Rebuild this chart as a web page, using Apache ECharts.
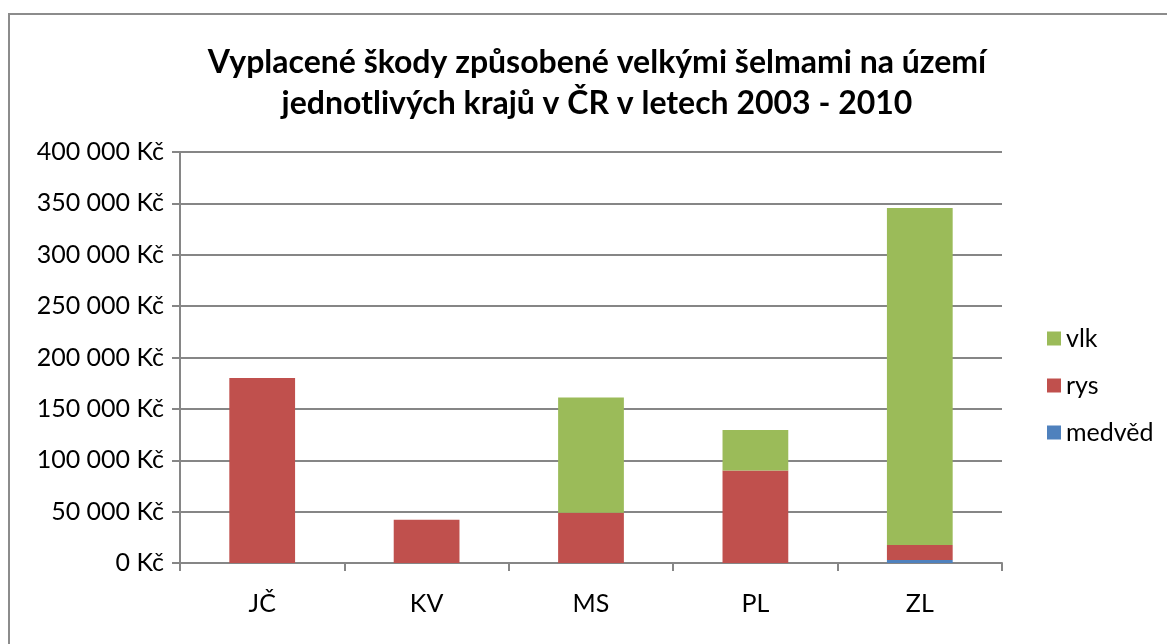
<!DOCTYPE html>
<html>
<head>
<meta charset="utf-8">
<script src="https://cdn.jsdelivr.net/npm/echarts@6/dist/echarts.min.js"></script>
<style>
  html, body { margin: 0; padding: 0; background: #fff; }
  #frame { position: absolute; left: 8px; top: 13px; width: 1170px; height: 640px; border: 2px solid #8c8c8c; box-sizing: border-box; }
  #chart { position: absolute; left: 0; top: 0; width: 1167px; height: 644px; }
</style>
</head>
<body>
<div id="frame"></div>
<div id="chart"></div>
<script>
// kraje
const regions = ['JČ', 'KV', 'MS', 'PL', 'ZL']
// vyplacené škody v Kč podle šelmy
const medved = [0, 0, 0, 0, 3000]
const rys = [180000, 42000, 49000, 90000, 14500]
const vlk = [0, 0, 112000, 39500, 328000]

const chart = echarts.init(document.getElementById('chart'))

// formát "350 000 Kč"
const fmtKc = (v) => String(v).replace(/\B(?=(\d{3})+(?!\d))/g, ' ') + ' Kč'

const font = 'Lato, "Open Sans", sans-serif'

const option = {
  animation: false,
  title: {
    text: 'Vyplacené škody způsobené velkými šelmami na území\njednotlivých krajů v ČR v letech 2003 - 2010',
    left: 592,
    textAlign: 'center',
    top: 37,
    textStyle: { fontFamily: font, fontSize: 32, fontWeight: 'bold', color: '#000', lineHeight: 41 }
  },
  legend: {
    data: ['vlk', 'rys', 'medvěd'],
    orient: 'vertical',
    left: 1042,
    top: 321,
    itemGap: 22,
    itemWidth: 14,
    itemHeight: 14,
    icon: 'rect',
    textStyle: { fontFamily: font, fontSize: 25, color: '#000' }
  },
  grid: { left: 180, right: 165, top: 152, bottom: 81 },
  xAxis: {
    type: 'category',
    data: regions,
    axisLine: { lineStyle: { color: '#868686', width: 2 } },
    axisTick: { show: true, length: 8, lineStyle: { color: '#868686', width: 2 } },
    axisLabel: { fontFamily: font, fontSize: 25, color: '#000', margin: 28 }
  },
  yAxis: {
    type: 'value',
    min: 0,
    max: 400000,
    interval: 50000,
    axisLine: { show: true, lineStyle: { color: '#868686', width: 2 } },
    axisTick: { show: true, length: 8, lineStyle: { color: '#868686', width: 2 } },
    splitLine: { lineStyle: { color: '#868686', width: 2 } },
    axisLabel: { fontFamily: font, fontSize: 25, color: '#000', margin: 16, formatter: fmtKc }
  },
  series: [
    { name: 'medvěd', type: 'bar', stack: 's', data: medved, barWidth: '40%', itemStyle: { color: '#4F81BD' } },
    { name: 'rys', type: 'bar', stack: 's', data: rys, barWidth: '40%', itemStyle: { color: '#C0504D' } },
    { name: 'vlk', type: 'bar', stack: 's', data: vlk, barWidth: '40%', itemStyle: { color: '#9BBB59' } }
  ]
}
chart.setOption(option)
</script>
</body>
</html>
